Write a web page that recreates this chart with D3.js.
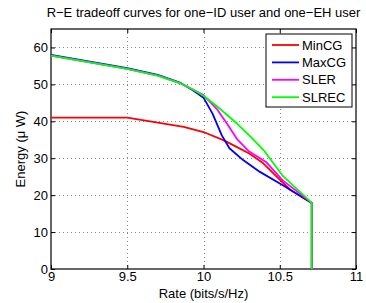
<!DOCTYPE html>
<html>
<head>
<meta charset="utf-8">
<script src="https://cdn.jsdelivr.net/npm/d3@7"></script>
<style>
body { margin: 0; background: #fff; }
text { font-family: "Liberation Sans", Arial, sans-serif; }
</style>
</head>
<body>
<div id="chart"></div>
<script>
var xTicks = [9, 9.5, 10, 10.5, 11];
var yTicks = [0, 10, 20, 30, 40, 50, 60];

var seriesNames = ["MinCG", "MaxCG", "SLER", "SLREC"];
var seriesColors = ["#ff0000", "#0000ff", "#ff00ff", "#00ff00"];

var rateMinCG   = [9, 9.5, 9.65, 9.87, 10.0, 10.13, 10.22, 10.30, 10.39, 10.48, 10.57, 10.71, 10.71];
var energyMinCG = [41, 41, 40, 38.5, 37.1, 34.9, 33, 31.3, 28.7, 25, 21.4, 17.9, 0];

var rateMaxCG   = [9, 9.5, 9.7, 9.85, 9.93, 10.0, 10.06, 10.12, 10.17, 10.26, 10.37, 10.52, 10.71, 10.71];
var energyMaxCG = [58, 54.4, 52.6, 50.4, 48.4, 46.4, 42, 36.2, 32.7, 29.5, 26.3, 22.7, 17.9, 0];

var rateSLER   = [9, 9.5, 9.7, 9.85, 9.93, 10.0, 10.09, 10.15, 10.22, 10.30, 10.41, 10.52, 10.71, 10.71];
var energySLER = [57.8, 54.2, 52.4, 50.3, 48.6, 47.1, 43.2, 39.6, 35.2, 31.8, 29, 24, 17.9, 0];

var rateSLREC   = [9, 9.5, 9.7, 9.85, 9.93, 10.0, 10.09, 10.22, 10.30, 10.40, 10.52, 10.71, 10.71];
var energySLREC = [57.8, 54.2, 52.4, 50.3, 48.6, 46.9, 44, 39.4, 36.2, 31.9, 25.2, 17.9, 0];

var w = 366, h = 303;
var pLeft = 51, pRight = 356, pTop = 29, pBottom = 269;
var fs = 13;

var svg = d3.select("#chart").append("svg")
    .attr("width", w)
    .attr("height", h);

var x = d3.scaleLinear().domain([9, 11]).range([pLeft, pRight]);
var y = d3.scaleLinear().domain([0, 65]).range([pBottom, pTop]);

// grid
svg.append("g").selectAll("line")
    .data(xTicks.slice(1, -1))
    .enter().append("line")
    .attr("x1", d => Math.round(x(d)) + 0.5).attr("x2", d => Math.round(x(d)) + 0.5)
    .attr("y1", pTop).attr("y2", pBottom)
    .attr("stroke", "#888").attr("stroke-width", 1)
    .attr("stroke-dasharray", "1,3");

svg.append("g").selectAll("line")
    .data(yTicks.slice(1))
    .enter().append("line")
    .attr("y1", d => Math.round(y(d)) + 0.5).attr("y2", d => Math.round(y(d)) + 0.5)
    .attr("x1", pLeft).attr("x2", pRight)
    .attr("stroke", "#888").attr("stroke-width", 1)
    .attr("stroke-dasharray", "1,3");

// axes
var xAxis = d3.axisBottom(x).tickValues(xTicks).tickSize(-4).tickPadding(3)
    .tickFormat(d => d3.format("")(d));
var yAxis = d3.axisLeft(y).tickValues(yTicks).tickSize(-4).tickPadding(3);

var gx = svg.append("g").attr("transform", "translate(0," + pBottom + ")").call(xAxis);
var gy = svg.append("g").attr("transform", "translate(" + pLeft + ",0)").call(yAxis);
var gx2 = svg.append("g").attr("transform", "translate(0," + pTop + ")")
    .call(d3.axisTop(x).tickValues(xTicks).tickSize(-4).tickFormat(""));
var gy2 = svg.append("g").attr("transform", "translate(" + pRight + ",0)")
    .call(d3.axisRight(y).tickValues(yTicks).tickSize(-4).tickFormat(""));

[gx, gy, gx2, gy2].forEach(function(g) {
    g.select(".domain").remove();
    g.selectAll("line").attr("stroke", "#000");
    g.selectAll("text").attr("font-size", fs).attr("fill", "#000")
        .style("font-family", "Liberation Sans, Arial, sans-serif");
});

svg.append("rect")
    .attr("x", pLeft).attr("y", pTop)
    .attr("width", pRight - pLeft).attr("height", pBottom - pTop)
    .attr("fill", "none").attr("stroke", "#000").attr("stroke-width", 1.2);

// curves
var rates = [rateMinCG, rateMaxCG, rateSLER, rateSLREC];
var energies = [energyMinCG, energyMaxCG, energySLER, energySLREC];

var line = d3.line().x(d => x(d[0])).y(d => y(d[1]));

svg.append("g").selectAll("path")
    .data(seriesNames)
    .enter().append("path")
    .attr("d", function(d, i) {
        return line(rates[i].map((r, j) => [r, energies[i][j]]));
    })
    .attr("fill", "none")
    .attr("stroke", (d, i) => seriesColors[i])
    .attr("stroke-width", 1.8)
    .attr("stroke-linejoin", "round");

// legend
var lg = svg.append("g");
lg.append("rect")
    .attr("x", 266).attr("y", 34).attr("width", 86).attr("height", 73)
    .attr("fill", "#fff").attr("stroke", "#000").attr("stroke-width", 1);

var rowStep = 17.4;
lg.selectAll("line")
    .data(seriesNames)
    .enter().append("line")
    .attr("x1", 272).attr("x2", 299)
    .attr("y1", (d, i) => 45 + i * rowStep).attr("y2", (d, i) => 45 + i * rowStep)
    .attr("stroke", (d, i) => seriesColors[i])
    .attr("stroke-width", 1.8);

lg.selectAll("text")
    .data(seriesNames)
    .enter().append("text")
    .attr("x", 302)
    .attr("y", (d, i) => 45 + i * rowStep)
    .attr("dy", "0.36em")
    .attr("font-size", fs)
    .text(d => d);

// title and labels
svg.append("text")
    .attr("x", (pLeft + pRight) / 2).attr("y", 17)
    .attr("text-anchor", "middle").attr("font-size", fs)
    .text("R\u2212E tradeoff curves for one\u2212ID user and one\u2212EH user");

svg.append("text")
    .attr("x", (pLeft + pRight) / 2).attr("y", 298)
    .attr("text-anchor", "middle").attr("font-size", fs)
    .text("Rate (bits/s/Hz)");

svg.append("text")
    .attr("transform", "translate(25," + ((pTop + pBottom) / 2) + ") rotate(-90)")
    .attr("text-anchor", "middle").attr("font-size", fs)
    .text("Energy (\u03bc W)");
</script>
</body>
</html>
